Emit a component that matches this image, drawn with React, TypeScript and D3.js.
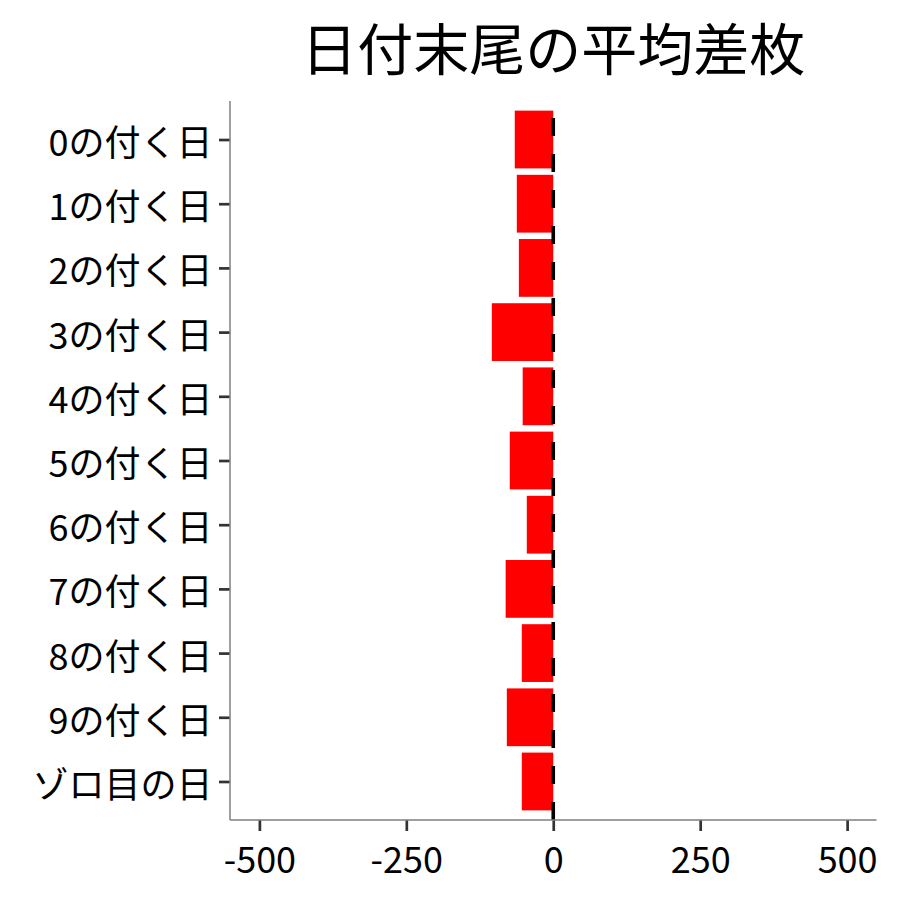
import React, { useEffect, useRef } from 'react';
import * as d3 from 'd3';

// 日付末尾ごとの平均差枚
const categories = [
  '0の付く日', '1の付く日', '2の付く日', '3の付く日', '4の付く日', '5の付く日',
  '6の付く日', '7の付く日', '8の付く日', '9の付く日', 'ゾロ目の日',
];
const values = [-65.5, -62, -58.5, -104.5, -52, -74, -45, -81, -53.5, -79, -53.5];
const xTicks = [-500, -250, 0, 250, 500];
const titleText = '日付末尾の平均差枚';

const FONT = "'Noto Sans CJK JP', 'Noto Sans', sans-serif";

const App: React.FC = () => {
  const svgRef = useRef<SVGSVGElement>(null);

  useEffect(() => {
    document.body.style.margin = '0';
    if (!svgRef.current) return;
    const svg = d3.select(svgRef.current);
    svg.selectAll('*').remove();

    const width = 900;
    const height = 900;
    // パネル範囲
    const left = 230, right = 876.5, top = 101, bottom = 820;

    const x = d3.scaleLinear().domain([-550, 550]).range([left, right]);
    const y = d3.scalePoint<string>().domain(categories).range([top, bottom]).padding(0.6);
    const barH = y.step() * 0.9;

    svg.attr('width', width).attr('height', height).style('background', '#ffffff');

    // bars
    svg.append('g')
      .selectAll('rect')
      .data(values)
      .enter()
      .append('rect')
      .attr('x', (d) => x(Math.min(0, d)))
      .attr('width', (d) => Math.abs(x(d) - x(0)))
      .attr('y', (_, i) => (y(categories[i]) as number) - barH / 2)
      .attr('height', barH)
      .attr('fill', '#ff0000');

    // zero line (dashed)
    svg.append('line')
      .attr('x1', x(0)).attr('x2', x(0))
      .attr('y1', bottom).attr('y2', top)
      .attr('stroke', '#000')
      .attr('stroke-width', 3.6)
      .attr('stroke-dasharray', '18 18');

    // x axis
    const gx = svg.append('g')
      .attr('transform', `translate(0,${bottom})`)
      .call(d3.axisBottom(x).tickValues(xTicks).tickSize(11).tickFormat((d) => String(d)));
    gx.select('.domain').remove();
    gx.selectAll('.tick line').attr('stroke', '#333333').attr('stroke-width', 2.7);
    gx.selectAll('.tick text')
      .attr('y', 37).attr('dy', null)
      .attr('dominant-baseline', 'central')
      .attr('fill', '#000')
      .style('font-size', '36px')
      .style('font-family', FONT);

    // y axis
    const gy = svg.append('g')
      .attr('transform', `translate(${left},0)`)
      .call(d3.axisLeft(y).tickSize(11).tickPadding(6.5));
    gy.select('.domain').remove();
    gy.selectAll('.tick line').attr('stroke', '#333333').attr('stroke-width', 2.7);
    gy.selectAll('.tick text')
      .attr('dy', null)
      .attr('dominant-baseline', 'central')
      .attr('fill', '#000')
      .style('font-size', '36px')
      .style('font-family', FONT);

    // axis lines
    svg.append('line')
      .attr('x1', left).attr('x2', left).attr('y1', top).attr('y2', bottom)
      .attr('stroke', '#7f7f7f').attr('stroke-width', 1.5);
    svg.append('line')
      .attr('x1', left).attr('x2', right).attr('y1', bottom).attr('y2', bottom)
      .attr('stroke', '#7f7f7f').attr('stroke-width', 1.5);

    // title
    svg.append('text')
      .attr('x', (left + right) / 2)
      .attr('y', 45)
      .attr('text-anchor', 'middle')
      .attr('dominant-baseline', 'central')
      .style('font-size', '56px')
      .style('font-family', FONT)
      .attr('fill', '#000')
      .text(titleText);
  }, []);

  return (
    <div style={{ width: 900, height: 900 }}>
      <svg ref={svgRef} width={900} height={900} style={{ display: 'block' }}></svg>
    </div>
  );
};

export default App;
